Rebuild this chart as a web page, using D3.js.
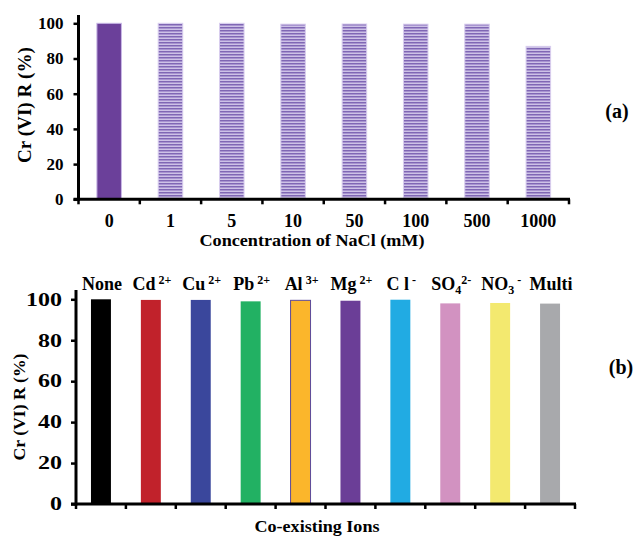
<!DOCTYPE html>
<html><head><meta charset="utf-8">
<script src="https://cdn.jsdelivr.net/npm/d3@7"></script>
<style>
body{margin:0;background:#fff}
svg{display:block}
svg text{font-family:"Times New Roman",Tinos,"Liberation Serif",Times,serif !important;font-weight:bold;fill:#000}
</style>
</head><body>
<svg id="c" width="636" height="537"></svg>
<script>
// ---- data ----
const naclCategories = ["0","1","5","10","50","100","500","1000"];
const naclValues = [100,100,100,99.5,99.6,99.5,99.5,86.9];
const yTicks = [0,20,40,60,80,100];

const ionNames = ["None","Cd","Cu","Pb","Al","Mg","C l","SO","NO","Multi"];
const ionSub   = ["","","","","","","","4","3",""];
const ionSup   = ["","2+","2+","2+","3+","2+","-","2-","-",""];
const ionSupGap= [false,true,true,true,true,true,true,false,true,false];
const ionValues = [100,99.7,99.7,99.0,99.5,99.3,99.8,98.0,98.2,97.9];
const ionColors = ["#000000","#c1222b","#3a479c","#22b163","#fbb62b","#6b3e97","#21abe3","#d292c1","#f3e96f","#a8a9ac"];
const ionStrokes = ["none","none","none","none","#5c4a9a","none","none","none","none","none"];

const FONT = '"Times New Roman",Tinos,"Liberation Serif",Times,serif';
const svg = d3.select("#c");
const defs = svg.append("defs");
const pat = defs.append("pattern").attr("id","stripes").attr("patternUnits","userSpaceOnUse")
  .attr("width",4).attr("height",3);
pat.append("rect").attr("width",4).attr("height",3).attr("fill","#a894d0");
pat.append("rect").attr("y",0).attr("width",4).attr("height",1).attr("fill","#7f67b4");
pat.append("rect").attr("y",2).attr("width",4).attr("height",1).attr("fill","#cdc2e6");

// ================= Panel (a) =================
(function(){
  const x0 = 78.5, x1 = 569, yB = 199.3, yT = 23.3;
  const x = d3.scaleBand().domain(naclCategories).range([x0,x1]).paddingInner(0.6).paddingOuter(0.3);
  const y = d3.scaleLinear().domain([0,100]).range([yB,yT]);
  const g = svg.append("g");
  g.selectAll("rect.bar").data(naclValues).join("rect")
    .attr("x",(d,i)=>x(naclCategories[i])).attr("width",x.bandwidth())
    .attr("y",d=>y(d)).attr("height",d=>yB-y(d))
    .attr("fill",(d,i)=> i===0 ? "#6b409a" : "url(#stripes)")
    .attr("stroke",(d,i)=> i===0 ? "#c9b8e6" : "#d8cdee").attr("stroke-width",1);
  const ya = d3.axisLeft(y).tickValues(yTicks).tickSize(5).tickSizeOuter(0).tickPadding(10);
  const yg = g.append("g").attr("transform",`translate(${x0},0)`).call(ya).attr("font-family",FONT);
  yg.select(".domain").remove();
  yg.selectAll(".tick line").attr("stroke","#000").attr("stroke-width",2.5);
  yg.selectAll(".tick text").attr("font-size",17).attr("fill","#000");
  g.append("line").attr("x1",x0).attr("x2",x0).attr("y1",15).attr("y2",yB+1.5).attr("stroke","#000").attr("stroke-width",3);
  g.append("line").attr("x1",x0-5).attr("x2",x1+1).attr("y1",yB).attr("y2",yB).attr("stroke","#000").attr("stroke-width",3);
  const bounds = naclCategories.map(c=>x(c)-x.step()*0.3).concat([x1]);
  g.selectAll("line.xt").data(bounds).join("line").attr("x1",d=>d).attr("x2",d=>d)
    .attr("y1",yB).attr("y2",yB+5).attr("stroke","#000").attr("stroke-width",2.5);
  g.selectAll("text.xl").data(naclCategories).join("text")
    .attr("x",d=>x(d)+x.bandwidth()/2).attr("y",227).attr("text-anchor","middle").attr("font-size",18).text(d=>d);
  g.append("text").attr("x",312).attr("y",246).attr("text-anchor","middle").attr("font-size",17)
    .attr("textLength",225).attr("lengthAdjust","spacingAndGlyphs").text("Concentration of NaCl (mM)");
  g.append("text").attr("transform","translate(31,105) rotate(-90)").attr("text-anchor","middle").attr("font-size",18)
    .attr("textLength",116).attr("lengthAdjust","spacingAndGlyphs").text("Cr (VI) R (%)");
  g.append("text").attr("x",617).attr("y",118).attr("text-anchor","middle").attr("font-size",20).text("(a)");
})();

// ================= Panel (b) =================
(function(){
  const x0 = 76, x1 = 575, yB = 504, yT = 299.3;
  const x = d3.scaleBand().domain(ionNames).range([x0,x1]).paddingInner(0.6).paddingOuter(0.3);
  const y = d3.scaleLinear().domain([0,100]).range([yB,yT]);
  const g = svg.append("g");
  g.selectAll("rect.bar").data(ionValues).join("rect")
    .attr("x",(d,i)=>x(ionNames[i])).attr("width",x.bandwidth())
    .attr("y",d=>y(d)).attr("height",d=>yB-y(d))
    .attr("fill",(d,i)=>ionColors[i])
    .attr("stroke",(d,i)=>ionStrokes[i]).attr("stroke-width",1);
  const ya = d3.axisLeft(y).tickValues(yTicks).tickSize(5).tickSizeOuter(0).tickPadding(9);
  const yg = g.append("g").attr("transform",`translate(${x0},0)`).call(ya).attr("font-family",FONT);
  yg.select(".domain").remove();
  yg.selectAll(".tick line").attr("stroke","#000").attr("stroke-width",2.5);
  yg.selectAll(".tick text").attr("font-size",18).attr("fill","#000")
    .attr("textLength",d=>String(d).length*12).attr("lengthAdjust","spacingAndGlyphs");
  g.append("line").attr("x1",x0).attr("x2",x0).attr("y1",290).attr("y2",yB+1.5).attr("stroke","#000").attr("stroke-width",3);
  g.append("line").attr("x1",x0-5).attr("x2",x1+1).attr("y1",yB).attr("y2",yB).attr("stroke","#000").attr("stroke-width",3);
  const bounds = ionNames.map(c=>x(c)-x.step()*0.3).concat([x1]);
  g.selectAll("line.xt").data(bounds).join("line").attr("x1",d=>d).attr("x2",d=>d)
    .attr("y1",yB).attr("y2",yB+5).attr("stroke","#000").attr("stroke-width",2.5);
  ionNames.forEach((n,i)=>{
    const t = g.append("text").attr("x",x(n)+x.bandwidth()/2+1).attr("y",290).attr("text-anchor","middle").attr("font-size",18);
    t.append("tspan").text(n);
    let off = 0;
    if(ionSub[i]){ t.append("tspan").attr("font-size",12).attr("dy",4).text(ionSub[i]); off = 4; }
    if(ionSup[i]){
      if(ionSupGap[i]) t.append("tspan").attr("font-size",12).attr("dy",0).text(" ");
      t.append("tspan").attr("font-size",12).attr("dy",-6-off).text(ionSup[i]);
    }
  });
  g.append("text").attr("x",317).attr("y",532).attr("text-anchor","middle").attr("font-size",17)
    .attr("textLength",125).attr("lengthAdjust","spacingAndGlyphs").text("Co-existing Ions");
  g.append("text").attr("transform","translate(25,407) rotate(-90)").attr("text-anchor","middle").attr("font-size",17)
    .attr("textLength",107).attr("lengthAdjust","spacingAndGlyphs").text("Cr (VI) R (%)");
  g.append("text").attr("x",621).attr("y",374).attr("text-anchor","middle").attr("font-size",20).text("(b)");
})();
</script>
</body></html>
